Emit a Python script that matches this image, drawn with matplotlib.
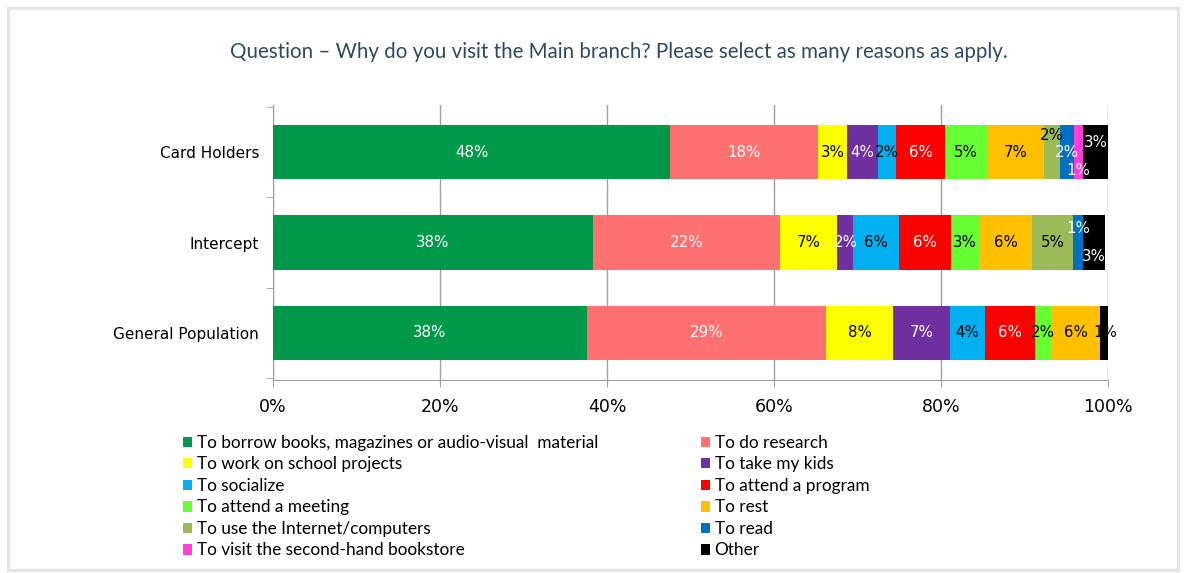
import matplotlib
matplotlib.use("Agg")
import matplotlib.pyplot as plt
from matplotlib.patches import Rectangle, Patch
import numpy as np

# ── Data ─────────────────────────────────────────────────────────────────────
groups = ["Card Holders", "Intercept", "General Population"]

reasons = [
    "To borrow books, magazines or audio-visual  material",
    "To do research",
    "To work on school projects",
    "To take my kids",
    "To socialize",
    "To attend a program",
    "To attend a meeting",
    "To rest",
    "To use the Internet/computers",
    "To read",
    "To visit the second-hand bookstore",
    "Other",
]

# share of respondents (%) per reason, one list per group
card_holders = [47.6, 17.7, 3.4, 3.7, 2.2, 5.9, 5.0, 6.8, 2.0, 1.6, 1.1, 3.2]
intercept    = [38.3, 22.4, 6.9, 1.9, 5.5, 6.2, 3.4, 6.3, 4.9, 1.2, 0.0, 2.6]
general_pop  = [37.6, 28.6, 8.1, 6.8, 4.2, 5.9, 2.0, 5.9, 0.0, 0.0, 0.0, 1.1]

colors = ["#00994C", "#FF7070", "#FFFF00", "#7030A0", "#00B0F0", "#FF0000",
          "#66FF33", "#FFC000", "#9BBB59", "#0070C0", "#FF40D8", "#000000"]
text_colors = ["white", "white", "black", "white", "black", "white",
               "black", "black", "black", "white", "white", "white"]

# label nudges (in category units) for the crowded slivers at the right end
nudges = {
    (0, 8): -0.18, (0, 9): 0.0, (0, 10): 0.2, (0, 11): -0.1,
    (1, 9): -0.15, (1, 11): 0.15,
}
label_color_override = {(2, 11): "black"}

values = np.array([card_holders, intercept, general_pop])

# ── Figure ───────────────────────────────────────────────────────────────────
fig = plt.figure(figsize=(11.85, 5.73), dpi=100)
fig.patch.set_facecolor("white")
fig.add_artist(Rectangle((8 / 1185, 3 / 573), 1170 / 1185, 562 / 573,
                         transform=fig.transFigure, fill=False,
                         edgecolor="#E6E6E6", lw=2.5))

ax = fig.add_axes([273 / 1185, 1 - 380 / 573, 835 / 1185, 275 / 573])

ypos = np.arange(len(groups))
left = np.zeros(len(groups))
for j, reason in enumerate(reasons):
    vals = values[:, j]
    ax.barh(ypos, vals, left=left, height=0.6, color=colors[j],
            edgecolor="none", label=reason, zorder=3)
    for i in range(len(groups)):
        v = vals[i]
        if v <= 0:
            continue
        x = left[i] + v / 2
        y = ypos[i] + nudges.get((i, j), 0.0)
        tc = label_color_override.get((i, j), text_colors[j])
        ax.text(x, y, f"{v:.0f}%", ha="center", va="center",
                fontsize=10.8, color=tc, zorder=4)
    left += vals

ax.set_xlim(0, 100)
ax.set_ylim(2.52, -0.52)
ax.set_xticks(np.arange(0, 101, 20))
ax.set_xticklabels([f"{t}%" for t in range(0, 101, 20)], fontsize=12.5)
ax.set_yticks(ypos)
ax.set_yticklabels(groups, fontsize=11)
ax.tick_params(axis="y", length=0, pad=10)
ax.set_yticks([-0.5, 0.5, 1.5, 2.5], minor=True)
ax.tick_params(axis="y", which="minor", length=5, color="#A0A0A0")
ax.tick_params(axis="x", length=5, color="#A0A0A0", pad=8)
ax.grid(axis="x", color="#A0A0A0", lw=1.0, zorder=0)
for side in ["top", "right"]:
    ax.spines[side].set_visible(False)
for side in ["left", "bottom"]:
    ax.spines[side].set_color("#A0A0A0")

fig.text(619 / 1185, 1 - 52 / 573,
         "Question – Why do you visit the Main branch? Please select as many reasons as apply.",
         ha="center", va="center", fontsize=14.8, color="#2E4A62", family="Lato")

# ── Legend (two columns, filled row by row) ──────────────────────────────────
handles = [Patch(facecolor=c, edgecolor="none") for c in colors]
leg_kw = dict(frameon=False, handlelength=0.55, handleheight=0.55,
              handletextpad=0.25, labelspacing=0.32, borderaxespad=0,
              prop={"family": "Lato", "size": 12.4})
fig.legend(handles[0::2], reasons[0::2], loc="upper left",
           bbox_to_anchor=(176 / 1185, 1 - 428 / 573), **leg_kw)
fig.legend(handles[1::2], reasons[1::2], loc="upper left",
           bbox_to_anchor=(694 / 1185, 1 - 428 / 573), **leg_kw)

fig.savefig("out.png", dpi=100, facecolor="white")
